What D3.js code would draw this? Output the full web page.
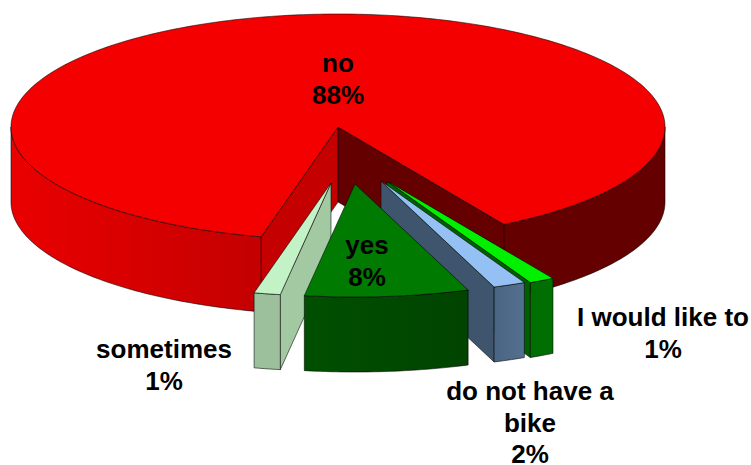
<!DOCTYPE html>
<html><head><meta charset="utf-8">
<script src="https://cdn.jsdelivr.net/npm/d3@7"></script>
<style>html,body{margin:0;padding:0;background:#fff}svg{display:block}</style>
</head><body><svg id="c" width="751" height="465"></svg>
<script>
// data, in clockwise screen order starting at the lower right
const categories = ["I would like to", "do not have a bike", "yes", "sometimes", "no"];
const values = [1.25, 1.6, 8.1, 1.3, 87.75];
const labelLines = [["I would like to"], ["do not have a", "bike"], ["yes"], ["sometimes"], ["no"]];

// layout and styles, separate from the data
const W = 751, H = 465, DEPTH = 75, START = 59.5 * Math.PI / 180;
const sx = d3.scaleLinear().domain([-1, 1]).range([-327, 327]);
const sy = d3.scaleLinear().domain([-1, 1]).range([-113, 113]);
const centers = [[387, 181], [381, 181], [355, 184], [331, 183], [338, 127]];
const labelPos = [[663, 326], [530, 400], [367, 254], [164, 358], [338, 72]];
const tops = ["#00f000", "#94c0f4", "#007a00", "#c2f2c6", "#f40000"];
const wallsA = ["#006000", "#4e6a8a", "#004a00", "#a3c9a3", "#c40000"]; // wall at the smaller angle
const wallsB = ["#006000", "#3f556d", "#004a00", "#a3c9a3", "#640000"]; // wall at the larger angle
const rimFrom = ["#006e00", "#4a6484", "#004f00", "#9cc09c", "#ea0000"];
const rimTo = ["#006e00", "#54708f", "#004400", "#9cc09c", "#c40000"];
const rimRight = "#640000";
const LINE = 0.7;

const svg = d3.select("#c");
const defs = svg.append("defs");
const pie = d3.pie().sort(null).startAngle(START).endAngle(START + 2 * Math.PI);
const arcs = pie(values);
const line = d3.line();
const pt = (c, a, dy = 0) => [c[0] + sx(Math.cos(a)), c[1] + sy(Math.sin(a)) + dy];
const samples = (a0, a1) => { const n = Math.max(2, Math.ceil((a1 - a0) * 60)); return d3.range(n + 1).map(i => a0 + (a1 - a0) * i / n); };
const shape = (pts, fill) => svg.append("path").attr("d", line(pts) + "Z").attr("fill", fill)
  .attr("stroke", "#000").attr("stroke-opacity", .8).attr("stroke-width", LINE).attr("stroke-linejoin", "round");

function drawSlice(i) {
  const c = centers[i], a0 = arcs[i].startAngle, a1 = arcs[i].endAngle;
  // radial walls, only the ones that face the viewer
  if (-Math.cos(a0) > 0) { const p = pt(c, a0); shape([c, p, [p[0], p[1] + DEPTH], [c[0], c[1] + DEPTH]], wallsA[i]); }
  if (Math.cos(a1) > 0) { const p = pt(c, a1); shape([c, p, [p[0], p[1] + DEPTH], [c[0], c[1] + DEPTH]], wallsB[i]); }
  // outer rim, split where it crosses the visible half
  const spans = [];
  const TAU = 2 * Math.PI;
  for (let k = 0; k < 2; k++) {
    const lo = Math.max(a0, k * TAU), hi = Math.min(a1, k * TAU + Math.PI);
    if (hi > lo) spans.push([lo, hi, k]);
  }
  spans.forEach(([lo, hi, k]) => {
    const as = samples(lo, hi);
    const id = "rim" + i + "_" + k;
    const p0 = pt(c, hi), p1 = pt(c, lo);
    const g = defs.append("linearGradient").attr("id", id).attr("gradientUnits", "userSpaceOnUse")
      .attr("x1", p0[0]).attr("x2", p1[0]).attr("y1", 0).attr("y2", 0);
    const right = i === 4 && k === 1;
    g.append("stop").attr("offset", 0).attr("stop-color", right ? rimRight : rimFrom[i]);
    g.append("stop").attr("offset", 1).attr("stop-color", right ? rimRight : rimTo[i]);
    shape(as.map(a => pt(c, a)).concat(as.slice().reverse().map(a => pt(c, a, DEPTH))), `url(#${id})`);
  });
  // top face
  shape([c].concat(samples(a0, a1).map(a => pt(c, a))), tops[i]);
}
[4, 0, 1, 3, 2].forEach(drawSlice);

// labels: category lines plus the rounded percentage
const LH = 31.5;
labelLines.forEach((ls, i) => {
  const t = svg.append("text").attr("text-anchor", "middle").attr("fill", "#000")
    .attr("font-family", "'Liberation Sans', Arial, sans-serif").attr("font-weight", "bold").attr("font-size", 26);
  ls.concat([Math.round(values[i]) + "%"]).forEach((s, j) =>
    t.append("tspan").attr("x", labelPos[i][0]).attr("y", labelPos[i][1] + j * LH).text(s));
});
</script></body></html>
